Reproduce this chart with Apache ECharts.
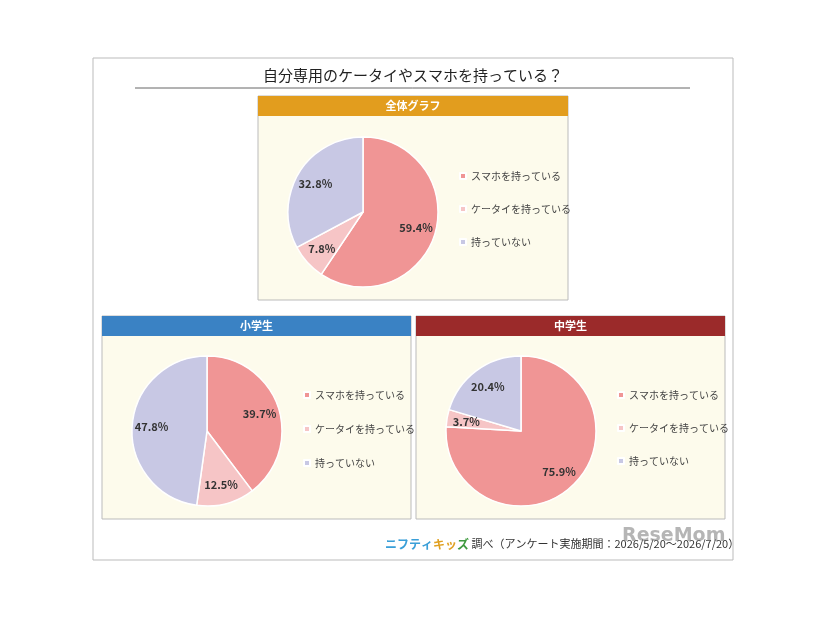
<!DOCTYPE html>
<html><head><meta charset="utf-8">
<script src="https://cdn.jsdelivr.net/npm/echarts@6/dist/echarts.min.js"></script>
<style>body{margin:0;background:#fff}#chart1{width:826px;height:620px}</style>
</head><body><div id="chart1"></div>
<script>
var categories = ['スマホを持っている', 'ケータイを持っている', '持っていない'];
var allValues = [59.4, 7.8, 32.8];
var elementaryValues = [39.7, 12.5, 47.8];
var juniorValues = [75.9, 3.7, 20.4];
var panelTitles = ['全体グラフ', '小学生', '中学生'];

var colors = ['#F09595', '#F6C5C6', '#C8C8E4'];
var font = '"Noto Sans CJK JP", sans-serif';
var dom = document.getElementById('chart1');
var myChart = echarts.init(dom, null, { renderer: 'canvas' });

var panels = [
  { x: 258, y: 96, w: 310, h: 204, head: '#E29D1E', cx: 363, cy: 212, lx: 454, ly: 166, gap: 23, vals: allValues },
  { x: 102, y: 316, w: 309, h: 203, head: '#3A82C4', cx: 207, cy: 431, lx: 298, ly: 385, gap: 24, vals: elementaryValues },
  { x: 416, y: 316, w: 309, h: 203, head: '#9B2A2A', cx: 521, cy: 431, lx: 612, ly: 385, gap: 23, vals: juniorValues }
];

function mkData(vals) {
  return categories.map(function (c, i) { return { name: c, value: vals[i] }; });
}

var graphic = [
  { type: 'rect', shape: { x: 93, y: 58, width: 640, height: 502 }, style: { fill: 'none', stroke: '#bbb', lineWidth: 1 } },
  { type: 'text', x: 413, y: 75, style: { text: '自分専用のケータイやスマホを持っている？', font: '15px ' + font, fill: '#222', textAlign: 'center', textVerticalAlign: 'middle' } },
  { type: 'line', shape: { x1: 135, y1: 88, x2: 690, y2: 88 }, style: { stroke: '#666', lineWidth: 1 } },
  { type: 'text', x: 385, y: 544, style: {
      rich: {
        a: { fill: '#3A9FD8', font: 'bold 12px ' + font },
        b: { fill: '#E0A020', font: 'bold 12px ' + font },
        c: { fill: '#3F9A3F', font: 'bold 12px ' + font },
        d: { fill: '#333', font: '11px ' + font }
      },
      text: '{a|ニフティ}{b|キッ}{c|ズ}{d| 調べ（アンケート実施期間：2026/5/20～2026/7/20）}',
      textVerticalAlign: 'middle' } },
  { type: 'text', x: 622, y: 536, z: 10, style: { text: 'ReseMom', font: 'bold 19px "DejaVu Sans"', fill: 'rgba(120,120,120,0.55)', textVerticalAlign: 'middle' } }
];
var series = [];
var legends = [];
panels.forEach(function (p, k) {
  graphic.push({ type: 'rect', shape: { x: p.x, y: p.y, width: p.w, height: p.h }, style: { fill: '#FDFBEC', stroke: '#BBBBBB', lineWidth: 1 } });
  graphic.push({ type: 'rect', shape: { x: p.x, y: p.y, width: p.w, height: 20 }, style: { fill: p.head } });
  graphic.push({ type: 'text', x: p.x + p.w / 2, y: p.y + 10, style: { text: panelTitles[k], font: 'bold 11px ' + font, fill: '#fff', textAlign: 'center', textVerticalAlign: 'middle' } });
  series.push({
    type: 'pie', center: [p.cx, p.cy], radius: [0, 75], startAngle: 90, clockwise: true,
    label: { show: false }, labelLine: { show: false }, silent: true,
    itemStyle: { borderColor: '#fff', borderWidth: 1.5 },
    data: mkData(p.vals)
  });
  series.push({
    type: 'pie', center: [p.cx, p.cy], radius: [0, 105], startAngle: 90, clockwise: true, silent: true,
    legendHoverLink: false, z: 3,
    itemStyle: { color: 'rgba(0,0,0,0)' },
    label: { position: 'inside', formatter: '{c}%', fontFamily: font, fontSize: 11, fontWeight: 'bold', color: '#333' },
    data: mkData(p.vals)
  });
  legends.push({
    orient: 'vertical', left: p.lx, top: p.ly, itemWidth: 6, itemHeight: 6, itemGap: p.gap, icon: 'rect',
    data: categories, selectedMode: false,
    textStyle: { fontFamily: font, fontSize: 10, color: '#444' }
  });
});

var option = { color: colors, animation: false, legend: legends, graphic: graphic, series: series };
myChart.setOption(option);
window.addEventListener('resize', myChart.resize);
</script></body></html>
